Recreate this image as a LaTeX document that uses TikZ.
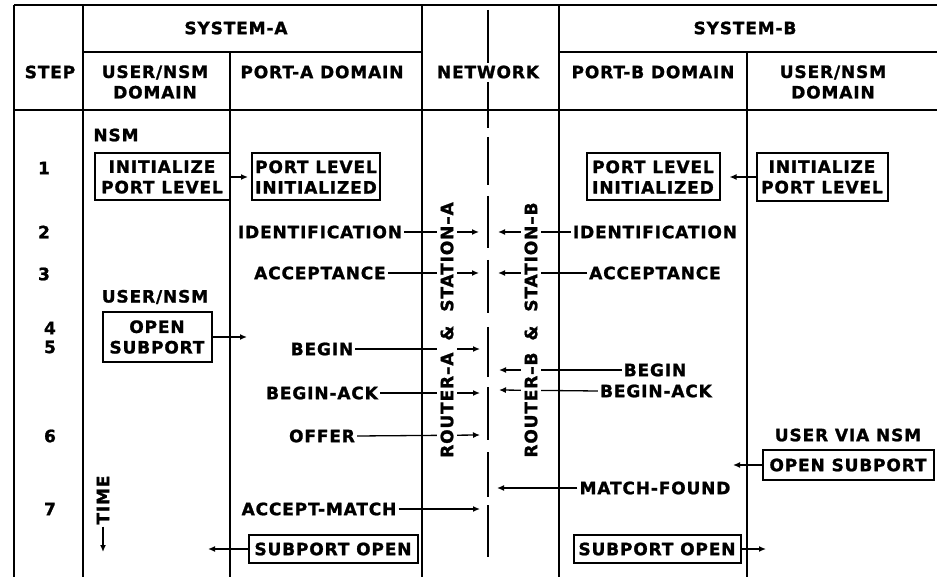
\documentclass[tikz,border=0pt]{standalone}
\usepackage{fontspec}
\setmainfont{DejaVu Sans}[UprightFont=* Bold, BoldFont=* Bold, LetterSpace=5, FakeBold=1.3]
\usetikzlibrary{arrows.meta}
\begin{document}
\begin{tikzpicture}[x=1pt,y=-1pt,
  every node/.style={font=\fontsize{17}{20.5}\selectfont, inner sep=2pt, align=center},
  box/.style={draw, line width=2pt, inner xsep=1pt, inner ysep=2pt},
  arr/.style={line width=1.3pt, -{Latex[length=7pt,width=6pt]}},
  vline/.style={line width=2.2pt},
  hline/.style={line width=1.1pt},
  netdash/.style={line width=2.6pt},
  rot/.style={rotate=90, fill=white, inner xsep=0pt, inner ysep=4pt}]
\useasboundingbox (0,0) rectangle (937,577);
% table frame
\draw[hline] (14,5) -- (937,5);
\draw[hline] (83,52) -- (422,52);
\draw[hline] (559,52) -- (937,52);
\draw[hline] (14,110) -- (937,110);
\draw[vline] (14,5) -- (14,577);
\draw[vline] (83,5) -- (83,577);
\draw[vline] (230,52) -- (230,577);
\draw[vline] (422,5) -- (422,577);
\draw[vline] (559,5) -- (559,577);
\draw[vline] (747,52) -- (747,577);
% network line
\foreach \a/\b in {10/63,82/128,137/185,196/248,260/313,327/377,387/440,452/497,505/557}
  \draw[netdash] (488,\a) -- (488,\b);
% headers
\node (sysA) at (236,28) {SYSTEM-A};
\node (sysB) at (745,28) {SYSTEM-B};
\node (step) at (50,72) {STEP};
\node (udA) at (155,82) {USER/NSM\\DOMAIN};
\node (pA) at (322,72) {PORT-A DOMAIN};
\node (net) at (488,72) {NETWORK};
\node (pB) at (653,72) {PORT-B DOMAIN};
\node (udB) at (833,82) {USER/NSM\\DOMAIN};
% steps
\node (s1) at (44,168) {1};
\node (s2) at (44,232) {2};
\node (s3) at (44,274) {3};
\node (s4) at (50,328) {4};
\node (s5) at (50,347) {5};
\node (s6) at (50,436) {6};
\node (s7) at (50,509) {7};
% row 1
\node (nsm) at (116,135) {NSM};
\node[box, minimum width=135pt, minimum height=47pt] (initA) at (162,177) {INITIALIZE\\PORT LEVEL};
\node[box, minimum width=128pt, minimum height=47pt] (pliA) at (316,177) {PORT LEVEL\\INITIALIZED};
\node[box, minimum width=133pt, minimum height=47pt] (pliB) at (653,177) {PORT LEVEL\\INITIALIZED};
\node[box, minimum width=131pt, minimum height=48pt] (initB) at (822,177) {INITIALIZE\\PORT LEVEL};
\draw[arr, shorten >=3pt] (initA.east) -- (pliA.west);
\draw[arr, shorten >=9pt] (initB.west) -- (pliB.east);
% rows 2-3
\node (idA) at (320,232) {IDENTIFICATION};
\node (idB) at (655,232) {IDENTIFICATION};
\node (acA) at (320,273) {ACCEPTANCE};
\node (acB) at (655,273) {ACCEPTANCE};
\coordinate (idAe) at (479,232);
\coordinate (idBe) at (498,232);
\coordinate (acAe) at (479,273);
\coordinate (acBe) at (498,273);
\draw[arr] (idA.east) -- (idAe);
\draw[arr] (idB.west) -- (idBe);
\draw[arr] (acA.east) -- (acAe);
\draw[arr] (acB.west) -- (acBe);
% rows 4-5
\node (unsm) at (155,297) {USER/NSM};
\node[box, minimum width=109pt, minimum height=49pt] (osA) at (157,337) {OPEN\\SUBPORT};
\coordinate (osAe) at (247,337);
\draw[arr] (osA.east) -- (osAe);
\node (bgA) at (322,349) {BEGIN};
\node (bgB) at (655,370) {BEGIN};
\node (baA) at (322,393) {BEGIN-ACK};
\node (baB) at (656,391) {BEGIN-ACK};
\node (ofA) at (322,436) {OFFER};
\coordinate (bgAe) at (480,349);
\coordinate (bgBe) at (499,370);
\coordinate (baAe) at (480,393);
\coordinate (baBe) at (499,390);
\coordinate (ofAe) at (480,435);
\draw[arr] (bgA.east) -- (bgAe);
\draw[arr] (bgB.west) -- (bgBe);
\draw[arr] (baA.east) -- (baAe);
\draw[arr] (baB.west) -- (baBe);
\draw[arr] (ofA.east) -- (ofAe);
% row 6
\node (uvn) at (848,435) {USER VIA NSM};
\node[box, minimum width=171pt, minimum height=30pt] (osB) at (848,465) {OPEN SUBPORT};
\coordinate (osBe) at (733,465);
\draw[arr] (osB.west) -- (osBe);
\node (mf) at (655,488) {MATCH-FOUND};
\coordinate (mfe) at (497,488);
\draw[arr] (mf.west) -- (mfe);
% row 7
\node (am) at (319,509) {ACCEPT-MATCH};
\coordinate (ame) at (480,509);
\draw[arr] (am.east) -- (ame);
\node[box, minimum width=169pt, minimum height=28pt] (soA) at (333,549) {SUBPORT OPEN};
\node[box, minimum width=167pt, minimum height=28pt] (soB) at (657,549) {SUBPORT OPEN};
\coordinate (soAe) at (208,549);
\coordinate (soBe) at (766,549);
\draw[arr] (soA.west) -- (soAe);
\draw[arr] (soB.east) -- (soBe);
% time
\node[rotate=90] (time) at (103,500) {TIME};
\coordinate (timee) at (103,552);
\draw[arr] (time.west) -- (timee);
% station labels
\node[rot] (rsA) at (447,330) {ROUTER--A\hspace{12pt}\&\hspace{14pt}STATION--A};
\node[rot] (rsB) at (531,330) {ROUTER--B\hspace{12pt}\&\hspace{14pt}STATION--B};
\end{tikzpicture}
\end{document}
